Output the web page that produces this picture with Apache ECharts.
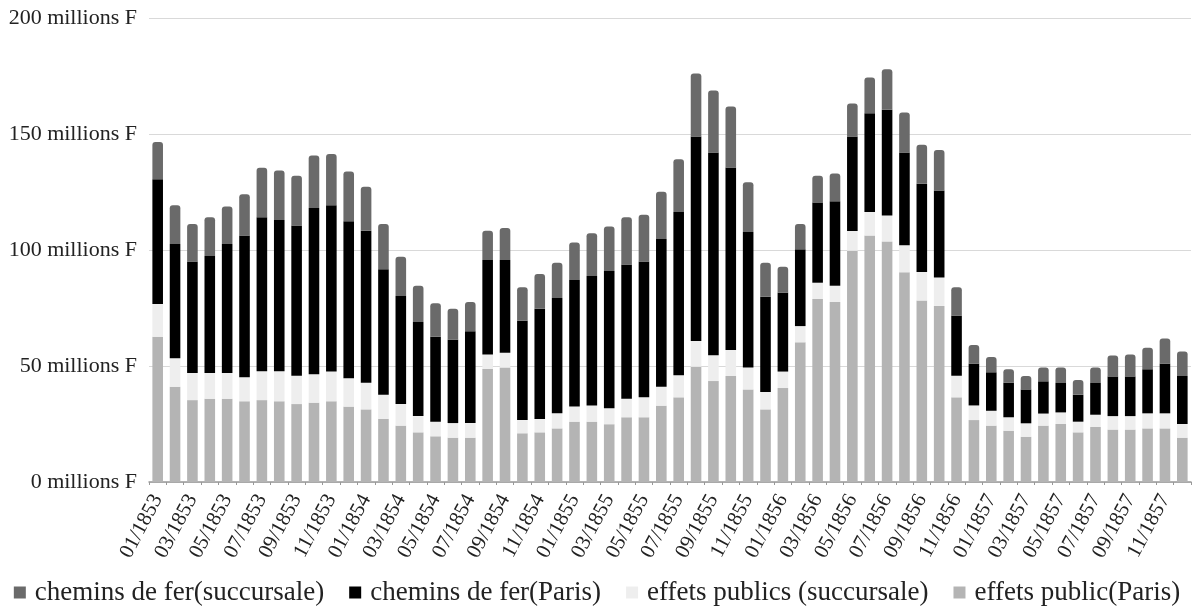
<!DOCTYPE html>
<html><head><meta charset="utf-8">
<script src="https://cdn.jsdelivr.net/npm/echarts@6/dist/echarts.min.js"></script>
<style>html,body{margin:0;padding:0;background:#fff}#c{width:1194px;height:611px}</style>
</head><body><div id="c"></div>
<script>
const months = [];
for (let y = 1853; y <= 1857; y++) for (let m = 1; m <= 12; m++) months.push((m < 10 ? '0' : '') + m + '/' + y);

const yTicks = [0, 50, 100, 150, 200];

const effetsParis = [62.6,41.1,35.3,35.9,35.9,34.8,35.3,34.8,33.6,34.2,
  34.8,32.5,31.3,27.2,24.3,21.4,19.7,19.1,19.1,48.7,
  49.4,21.0,21.4,23.1,26.0,26.0,24.9,27.9,27.9,32.9,
  36.5,49.7,43.5,45.7,39.9,31.3,40.5,60.2,78.9,77.6,
  99.7,106.2,103.7,90.4,78.2,75.9,36.5,26.7,24.3,22.1,
  19.5,24.3,25.0,21.4,23.7,22.6,22.6,23.1,23.1,19.1];
const effetsSucc = [14.1,12.2,11.7,11.1,11.1,10.3,12.4,12.9,12.2,12.2,
  12.8,12.2,11.5,10.4,9.3,7.0,6.3,6.3,6.3,6.3,
  6.3,5.7,5.8,6.5,6.5,7.0,6.9,8.0,8.6,8.2,
  9.5,11.1,11.1,11.2,9.4,7.5,7.1,7.0,7.0,7.0,
  8.5,10.2,11.2,11.6,12.3,12.2,9.3,6.3,6.4,5.8,
  5.8,5.2,5.0,4.6,5.3,5.8,5.8,6.5,6.5,5.9];
const cheminsParis = [53.8,49.3,48.0,50.4,55.6,61.1,66.4,65.2,64.8,71.7,
  71.7,67.7,65.5,54.1,46.6,40.6,36.6,36.0,39.6,40.7,
  40.0,42.8,47.5,49.7,54.6,55.8,59.1,57.9,58.5,63.6,
  70.4,88.1,87.4,78.7,58.5,41.1,34.0,33.1,34.6,36.4,
  40.7,42.5,45.6,40.0,38.1,37.6,25.9,18.0,16.6,14.9,
  14.6,13.9,12.7,11.6,13.7,17.1,17.1,19.0,21.4,20.7];
const cheminsSucc = [16.1,16.7,16.2,16.7,16.2,17.8,21.4,21.4,21.4,22.6,
  22.1,21.4,19.0,19.5,16.9,15.6,14.4,13.3,12.6,12.6,
  13.8,14.4,15.0,15.2,16.1,18.4,19.2,20.3,20.2,20.4,
  22.7,27.2,26.7,26.2,21.4,14.6,11.2,10.9,11.5,12.0,
  14.3,15.4,17.4,17.3,16.8,17.4,12.2,8.1,6.6,5.8,
  5.8,5.9,6.6,6.4,6.6,9.0,9.5,9.3,10.9,10.5];

const names = ['chemins de fer(succursale)', 'chemins de fer(Paris)', 'effets publics (succursale)', 'effets public(Paris)'];
const font = '"Liberation Serif", "DejaVu Serif", serif';

const chart = echarts.init(document.getElementById('c'), null, {renderer: 'canvas'});
function bar(name, data, color, radius) {
  return {name, type: 'bar', stack: 'total', data, barCategoryGap: '39%',
    itemStyle: {color, borderRadius: radius || 0}, emphasis: {disabled: true}};
}
chart.setOption({
  animation: false,
  textStyle: {fontFamily: font},
  grid: {left: 149, right: 3, top: 18, bottom: 129, containLabel: false},
  legend: {
    data: [names[0], names[1], names[2], names[3]],
    bottom: 0, left: 'center', itemWidth: 12, itemHeight: 12, itemGap: 25, icon: 'rect',
    textStyle: {fontFamily: font, fontSize: 27, color: '#222', padding: [0, 0, 0, 4]}
  },
  xAxis: {
    type: 'category', data: months,
    axisLine: {lineStyle: {color: '#999', width: 1.5}},
    axisTick: {show: true, alignWithLabel: false, interval: 0, length: 3, lineStyle: {color: '#999'}},
    axisLabel: {interval: 1, rotate: 62, fontFamily: font, fontSize: 21, color: '#222', margin: 14}
  },
  yAxis: {
    type: 'value', min: yTicks[0], max: yTicks[yTicks.length - 1], interval: 50,
    axisLine: {show: false}, axisTick: {show: false},
    splitLine: {lineStyle: {color: '#d9d9d9', width: 1.2}},
    axisLabel: {formatter: v => v + ' millions F', fontFamily: font, fontSize: 22, color: '#222', margin: 12}
  },
  series: [
    bar(names[3], effetsParis, '#b4b4b4'),
    bar(names[2], effetsSucc, '#eeeeee'),
    bar(names[1], cheminsParis, '#000000'),
    bar(names[0], cheminsSucc, '#6a6a6a', [3, 3, 0, 0])
  ]
});
</script></body></html>
